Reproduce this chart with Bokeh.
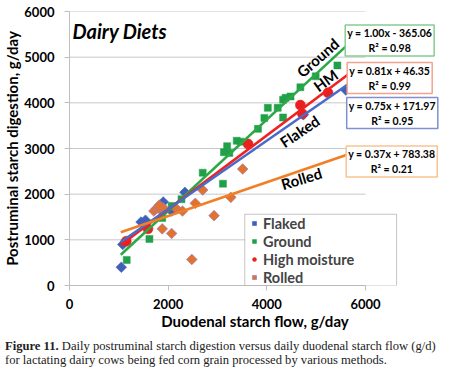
import math
from bokeh.plotting import figure
from bokeh.models import Range1d, Label, Legend, LegendItem, Div, FixedTicker, BoxAnnotation
from bokeh.layouts import column
from bokeh.embed import file_html
from bokeh.resources import INLINE

# ---------------- data ----------------
flaked_x = [1050, 1080, 1450, 1540, 1900, 2070, 2340, 4740, 5600]
flaked_y = [400, 900, 1390, 1430, 1830, 1630, 2040, 3740, 4280]

ground_x = [1160, 1620, 1880, 2070, 2270, 2700, 3110, 3130, 3195, 3240, 3390, 3470,
            3820, 3950, 4020, 4220, 4330, 4330, 4380, 4480, 4680, 4990, 5430]
ground_y = [560, 1020, 1480, 1740, 1890, 2470, 2230, 2920, 3050, 2900, 3170, 3150,
            3430, 3670, 3890, 3890, 3680, 4070, 4110, 4140, 4340, 4580, 4820]

hm_x = [1150, 1590, 3620, 4680, 4720, 5240]
hm_y = [970, 1240, 3100, 3950, 3760, 4220]

rolled_x = [1710, 1760, 1800, 1850, 1900, 1820, 1880, 2070, 2170, 2290, 2550, 2700,
            2930, 2480, 3270, 3510]
rolled_y = [1630, 1680, 1720, 1650, 1700, 1760, 1240, 1140, 1680, 1630, 1800, 2090,
            1530, 570, 1930, 2550]

series_names = ["Flaked", "Ground", "High moisture", "Rolled"]
trend_names = ["Ground", "HM", "Flaked", "Rolled"]
trend_slope = [1.00, 0.81, 0.75, 0.37]
trend_intercept = [-365.06, 46.35, 171.97, 783.38]
trend_r2 = [0.98, 0.99, 0.95, 0.21]
trend_x = [1040, 5640]

x_ticks = [0, 2000, 4000, 6000]
y_ticks = [0, 1000, 2000, 3000, 4000, 5000, 6000]

# ---------------- styles ----------------
FONT = "Lato"
c_flaked = "#3F5FB8"
c_ground = "#21A04A"
c_hm = "#E8201E"
c_rolled = "#E2722C"
l_ground = "#2CA846"
l_hm = "#EE2222"
l_flaked = "#4A6CC8"
l_rolled = "#F07F26"
box_ground = "#86CC92"
box_hm = "#F4A38E"
box_flaked = "#7F8FCF"
box_rolled = "#F8C394"

p = figure(width=440, height=333, output_backend="svg", toolbar_location=None,
           x_range=Range1d(0, 7520), y_range=Range1d(0, 6000),
           min_border_left=59, min_border_right=0, min_border_top=11, min_border_bottom=48)
p.outline_line_color = None
p.xgrid.visible = False
p.ygrid.visible = False

# gridlines across the 0..6000 x domain only
p.segment(x0=[x_ticks[0]] * (len(y_ticks) - 1), x1=[x_ticks[-1]] * (len(y_ticks) - 1),
          y0=y_ticks[1:], y1=y_ticks[1:], line_color="#C8C8C8", line_width=1)

for ax, ticks in ((p.xaxis[0], x_ticks), (p.yaxis[0], y_ticks)):
    ax.ticker = FixedTicker(ticks=ticks)
    ax.bounds = (ticks[0], ticks[-1])
    ax.axis_line_color = "#BFBFBF"
    ax.major_tick_line_color = "#BFBFBF"
    ax.minor_tick_line_color = None
    ax.major_tick_in = 0
    ax.major_tick_out = 5
    ax.major_label_text_font = FONT
    ax.major_label_text_font_style = "bold"
    ax.major_label_text_font_size = "13px"
    ax.major_label_text_color = "#000000"
    ax.axis_label_text_font = FONT
    ax.axis_label_text_font_style = "bold"
    ax.axis_label_text_font_size = "15px"
    ax.axis_label_text_color = "#000000"

p.xaxis.axis_label = "Duodenal starch flow, g/day"
p.xaxis.major_label_standoff = 8
p.xaxis.axis_label_standoff = 0
p.yaxis.axis_label = "Postruminal starch digestion, g/day"
p.yaxis.major_label_standoff = 10
p.yaxis.axis_label_standoff = 0

# markers
r_fl = p.scatter(flaked_x, flaked_y, marker="square", angle=math.pi / 4, size=7.5,
                 fill_color=c_flaked, line_color=c_flaked, line_width=0.6)
r_gr = p.scatter(ground_x, ground_y, marker="square", size=7,
                 fill_color=c_ground, line_color=c_ground, line_width=0.5)
r_hm = p.scatter(hm_x, hm_y, marker="circle", size=10,
                 fill_color=c_hm, line_color=c_hm, line_width=0.5)
r_ro = p.scatter(rolled_x, rolled_y, marker="square", angle=math.pi / 4, size=7.5,
                 fill_color=c_rolled, line_color="#9C7CC2", line_width=0.7)

# trendlines
line_colors = [l_ground, l_hm, l_flaked, l_rolled]
for m, b, col in zip(trend_slope, trend_intercept, line_colors):
    p.line(trend_x, [m * x + b for x in trend_x], line_color=col, line_width=2.6)

# rotated series labels on the lines
lab_pos = [(5030, 4990), (5190, 4490), (4665, 3380), (4700, 2345)]
lab_ang = [41, 36, 34, 17]
for name, (lx, ly), ang in zip(trend_names, lab_pos, lab_ang):
    p.add_layout(Label(x=lx, y=ly, text=name, angle=math.radians(ang),
                       text_align="center", text_baseline="middle",
                       text_font=FONT, text_font_style="bold", text_font_size="15px",
                       text_color="#000000"))

# equation boxes
box_pos = [(6490, 5365), (6490, 4543), (6542, 3777), (6532, 2715)]
box_cols = [box_ground, box_hm, box_flaked, box_rolled]
for m, b, r2, (bx, by), bc in zip(trend_slope, trend_intercept, trend_r2, box_pos, box_cols):
    sign = "-" if b < 0 else "+"
    txt = f"y = {m:.2f}x {sign} {abs(b):.2f}\nR\u00b2 = {r2:.2f}"
    p.add_layout(Label(x=bx, y=by, text=txt, text_align="center", text_baseline="middle",
                       text_font=FONT, text_font_style="bold", text_font_size="10.5px",
                       text_color="#000000", text_line_height=1.25,
                       border_line_color=bc, border_line_width=1.5,
                       background_fill_color="white", padding=2))

# title inside plot
p.add_layout(Label(x=60, y=5583, text="Dairy Diets", text_align="left", text_baseline="middle",
                   text_font=FONT, text_font_style="bold italic", text_font_size="20px",
                   text_color="#000000"))

# legend frame (wider than its content, as in the reference)
p.add_layout(BoxAnnotation(left=3552, right=6630, bottom=0, top=1560,
                           fill_color="white", fill_alpha=1,
                           line_color="#404040", line_width=1))

legend = Legend(items=[LegendItem(label=series_names[0], renderers=[r_fl]),
                       LegendItem(label=series_names[1], renderers=[r_gr]),
                       LegendItem(label=series_names[2], renderers=[r_hm]),
                       LegendItem(label=series_names[3], renderers=[r_ro])],
                location=(180, -1), margin=0, padding=2, spacing=0,
                border_line_color=None, background_fill_alpha=0,
                label_text_font=FONT, label_text_font_style="bold", label_text_font_size="14.5px",
                label_height=18, glyph_height=18, glyph_width=10, label_standoff=4)
p.add_layout(legend)

caption = Div(text="<div style='padding-top:1px; font-family:\"Liberation Serif\"; font-size:12.6px; "
                   "line-height:14px; color:#222222; white-space:nowrap'>"
                   "<b>Figure 11.</b> Daily postruminal starch digestion versus daily duodenal starch flow (g/d)"
                   "<br>for lactating dairy cows being fed corn grain processed by various methods.</div>",
              width=440)

layout = column(p, caption)
open("out.html", "w").write(file_html(layout, INLINE))
